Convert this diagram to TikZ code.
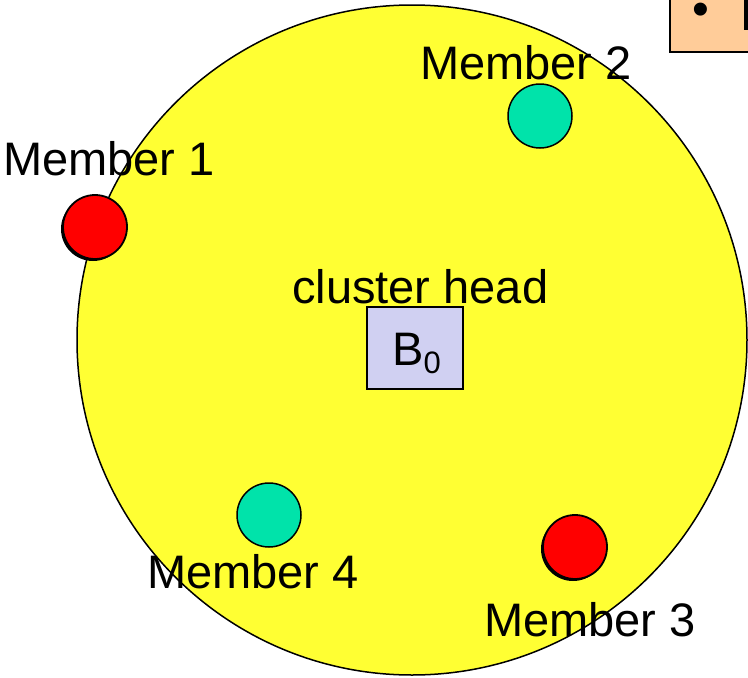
\documentclass[tikz,border=0pt]{standalone}
\usepackage{fontspec}
\setmainfont{Liberation Sans}
\definecolor{bigyellow}{RGB}{255,255,51}
\definecolor{teal2}{RGB}{0,227,170}
\definecolor{lav}{RGB}{208,208,242}
\definecolor{peach}{RGB}{255,204,153}
\tikzset{
  lbl/.style={anchor=base west, inner sep=0pt, font=\fontsize{47}{56}\selectfont},
  rednode/.style={circle, draw=black, line width=1.8pt, fill=red, minimum size=64pt, inner sep=0pt},
  tealnode/.style={circle, draw=black, line width=1.5pt, fill=teal2, minimum size=64pt, inner sep=0pt},
  shadowc/.style={circle, fill=black, minimum size=64pt, inner sep=0pt},
}
\begin{document}
\begin{tikzpicture}[x=1pt,y=-1pt]
\useasboundingbox (0,0) rectangle (748,678);
\clip (0,0) rectangle (748,678);
\fill[white] (0,0) rectangle (748,678);
% note box top right
\node[draw=black, line width=1.8pt, fill=peach, minimum width=110pt, minimum height=70pt, inner sep=0pt] (note) at (725,17) {};
\node[inner sep=0pt, font=\fontsize{48}{50}\selectfont] (bullet) at (701,14) {\textbullet};
\fill[black] (744,-2) rectangle (748,30);
% big circle
\node[circle, draw=black, line width=1.5pt, fill=bigyellow, minimum size=670pt, inner sep=0pt] (cluster) at (412,340) {};
% members
\node[shadowc] (m1s) at (93,229) {};
\node[rednode] (m1) at (95,227) {};
\node[tealnode] (m2) at (540,116) {};
\node[shadowc] (m3s) at (573,549) {};
\node[rednode] (m3) at (575,547) {};
\node[tealnode] (m4) at (269,515) {};
% cluster head box
\node[draw=black, line width=1.5pt, fill=lav, minimum width=96pt, minimum height=82pt, inner sep=0pt] (b0) at (415,348) {};
\node[lbl] (b0t) at (392,365) {B\raisebox{-8pt}{\fontsize{31}{36}\selectfont 0}};
% labels
\node[lbl] (l1) at (3,175) {Member 1};
\node[lbl] (l2) at (420,79) {Member 2};
\node[lbl] (l3) at (484,636) {Member 3};
\node[lbl] (l4) at (147,588) {Member 4};
\node[lbl] (lh) at (292,303) {cluster head};
\end{tikzpicture}
\end{document}
